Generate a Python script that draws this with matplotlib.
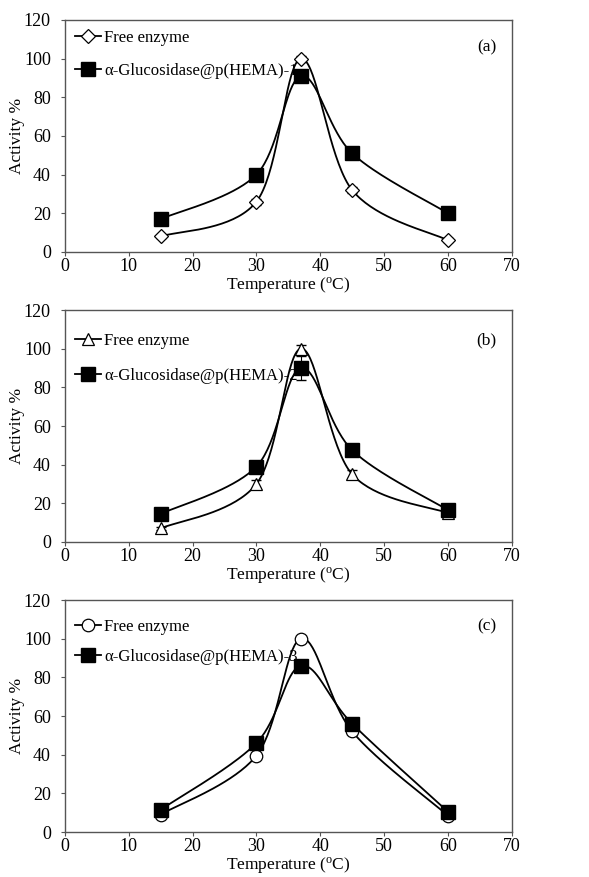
import numpy as np
import matplotlib.pyplot as plt

plt.rcParams['font.family'] = ['Liberation Serif', 'DejaVu Serif']
plt.rcParams['mathtext.fontset'] = 'custom'
plt.rcParams['mathtext.rm'] = 'Liberation Serif'

temp = [15, 30, 37, 45, 60]

# panel (a)
free_a = [8, 26, 100, 32, 6]
free_a_err = [1, 1.5, 1.5, 1.5, 1]
hema1 = [17, 40, 91, 51, 20]
hema1_err = [1, 1.5, 2, 1.5, 1]

# panel (b)
free_b = [7, 30, 100, 35, 15]
free_b_err = [1, 2, 2, 2, 1]
hema2 = [14.5, 39, 90, 47.5, 16.5]
hema2_err = [1, 1.5, 6, 1.5, 1]

# panel (c)
free_c = [9, 39.5, 100, 52, 8.5]
free_c_err = [1, 1.5, 1.5, 1.5, 1]
hema3 = [11.5, 46, 86, 56, 10.5]
hema3_err = [1, 1.5, 3, 1.5, 1]


def smooth(x, y, n=40):
    # excel-like smoothed line (catmull-rom bezier)
    x = np.asarray(x, float)
    y = np.asarray(y, float)
    px = np.concatenate([[x[0]], x, [x[-1]]])
    py = np.concatenate([[y[0]], y, [y[-1]]])
    xs, ys = [], []
    t = np.linspace(0, 1, n)
    for i in range(1, len(px) - 2):
        p0 = np.array([px[i], py[i]])
        p3 = np.array([px[i + 1], py[i + 1]])
        p1 = p0 + (p3 - np.array([px[i - 1], py[i - 1]])) / 6
        p2 = p3 - (np.array([px[i + 2], py[i + 2]]) - p0) / 6
        b = ((1 - t) ** 3)[:, None] * p0 + (3 * (1 - t) ** 2 * t)[:, None] * p1 \
            + (3 * (1 - t) * t ** 2)[:, None] * p2 + (t ** 3)[:, None] * p3
        xs.extend(b[:, 0])
        ys.extend(b[:, 1])
    return xs, ys


fig = plt.figure(figsize=(5.89, 8.77), dpi=100)

panels = [
    (0.7127, free_a, free_a_err, 'D', 7, hema1, hema1_err, 'α-Glucosidase@p(HEMA)-1', '(a)', 0.88, 1.0, 1.0),
    (0.382, free_b, free_b_err, '^', 9, hema2, hema2_err, 'α-Glucosidase@p(HEMA)-2', '(b)', 0.87, 0.944, 1.15),
    (0.0513, free_c, free_c_err, 'o', 9, hema3, hema3_err, 'α-Glucosidase@p(HEMA)-3', '(c)', 0.887, 0.962, 0.85),
]

for bottom, free, ferr, fmark, fsize, hema, herr, hlabel, tag, tagy, legy, lsp in panels:
    ax = fig.add_axes([0.110, bottom, 0.759, 0.2645])

    sx, sy = smooth(temp, free)
    ax.plot(sx, sy, color='black', lw=1.3, zorder=2)
    ax.errorbar(temp, free, yerr=ferr, fmt='none', ecolor='black', elinewidth=0.8, capsize=3.5, zorder=3)
    ax.plot(temp, free, ls='none', marker=fmark, ms=fsize, mfc='white', mec='black', mew=0.9, zorder=4)

    hx, hy = smooth(temp, hema)
    ax.plot(hx, hy, color='black', lw=1.3, zorder=2)
    ax.errorbar(temp, hema, yerr=herr, fmt='none', ecolor='black', elinewidth=0.8, capsize=3.5, zorder=3)
    ax.plot(temp, hema, ls='none', marker='s', ms=10, mfc='black', mec='black', zorder=5)

    # legend handles
    h1, = ax.plot([], [], color='black', lw=1.3, marker=fmark, ms=fsize, mfc='white', mec='black', mew=0.9)
    h2, = ax.plot([], [], color='black', lw=1.3, marker='s', ms=10, mfc='black', mec='black')
    ax.legend([h1, h2], ['Free enzyme', hlabel], loc='upper left', frameon=False,
              fontsize=12, handlelength=1.6, handletextpad=0.15, labelspacing=lsp,
              borderaxespad=0.2, bbox_to_anchor=(0.0, legy))

    ax.text(0.944, tagy, tag, transform=ax.transAxes, ha='center', va='center', fontsize=12.5)

    ax.set_xlim(0, 70)
    ax.set_ylim(0, 120)
    ax.set_xticks(range(0, 71, 10))
    ax.set_yticks(range(0, 121, 20))
    ax.tick_params(direction='out', length=3, labelsize=13, color='#555555')
    ax.tick_params(axis='x', pad=1.5)
    ax.tick_params(axis='y', pad=7)
    for s in ax.spines.values():
        s.set_color('#555555')
        s.set_linewidth(1.0)
    ax.set_xlabel('Temperature ($\\rm ^{o}$C)', fontsize=12.5, labelpad=0)
    ax.set_ylabel('Activity %', fontsize=12.5, labelpad=-1)

fig.savefig('out.png', dpi=100)
